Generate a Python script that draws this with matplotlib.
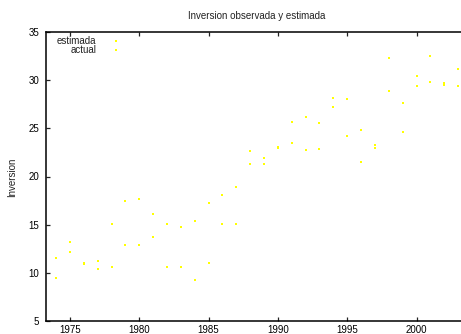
import matplotlib
matplotlib.use('Agg')
import matplotlib.pyplot as plt

plt.rcParams['font.family'] = ['Liberation Sans', 'DejaVu Sans']

# Observed and estimated investment, one pair per year
years = list(range(1974, 2004))
estimada = [11.5, 13.2, 11.0, 11.25, 15.06, 17.5, 17.7, 16.07, 15.06, 14.72,
            15.4, 17.3, 18.04, 18.87, 22.67, 21.95, 23.0, 25.62, 26.14, 25.55,
            28.11, 28.0, 24.86, 23.23, 32.27, 27.66, 30.43, 32.5, 29.67, 31.19]
actual = [9.42, 12.2, 10.9, 10.42, 10.63, 12.9, 12.88, 13.68, 10.63, 10.57,
          9.3, 10.98, 15.03, 15.03, 21.26, 21.26, 23.05, 23.47, 22.75, 22.85,
          27.2, 24.17, 21.47, 22.92, 28.87, 24.58, 29.36, 29.8, 29.5, 29.36]

x_ticks = [1975, 1980, 1985, 1990, 1995, 2000]
y_ticks = [5, 10, 15, 20, 25, 30, 35]

W, H = 461, 334
fig = plt.figure(figsize=(W / 100, H / 100), dpi=100)
ax = fig.add_axes([46 / W, (H - 321) / H, (W - 46) / W, 289 / H])

pt = dict(marker='s', ms=1.6, mew=0, color='#ffff00', linestyle='none')
ax.plot(years, estimada, **pt)
ax.plot(years, actual, **pt)

ax.set_xlim(1973.27, 2003.21)
ax.set_ylim(5, 35)
ax.set_xticks(x_ticks)
ax.set_yticks(y_ticks)
ax.tick_params(direction='in', length=3, width=0.9, labelsize=7,
               top=True, right=False, color='#222222')
ax.tick_params(axis='x', pad=3)
ax.tick_params(axis='y', pad=5)
for side in ['left', 'bottom', 'top']:
    ax.spines[side].set_linewidth(1.1)
ax.spines['right'].set_visible(False)

# gnuplot-style key: right-aligned labels followed by point samples
key = [('estimada', 0.969), ('actual', 0.938)]
for label, ky in key:
    ax.text(0.1205, ky, label, transform=ax.transAxes, ha='right', va='center',
            fontsize=7, color='#222222')
    ax.plot([0.169], [ky], transform=ax.transAxes, clip_on=False, **pt)

fig.text(257 / W, 1 - 16 / H, 'Inversion observada y estimada', ha='center',
         va='center', fontsize=7, color='#222222')
fig.text(12 / W, 1 - 177 / H, 'Inversion', rotation=90, ha='center',
         va='center', fontsize=7, color='#222222')

fig.savefig('out.png', dpi=100, facecolor='white')
